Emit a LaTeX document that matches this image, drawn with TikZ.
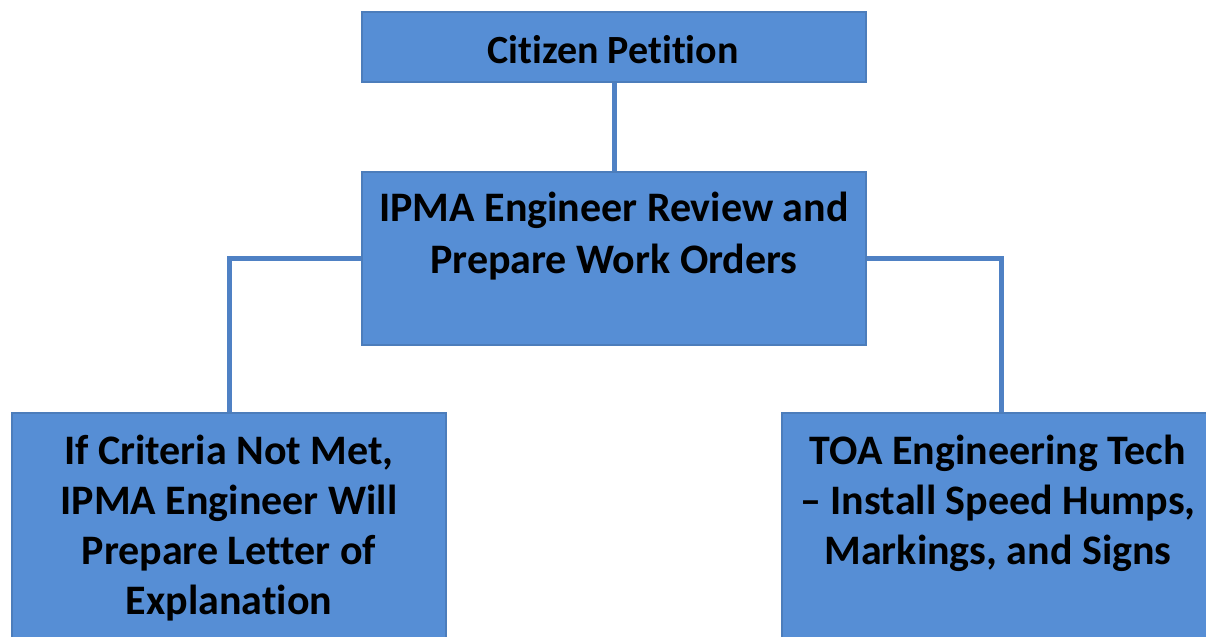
\documentclass[tikz,border=0pt]{standalone}
\usepackage{fontspec}
\setmainfont{Carlito}[Ligatures=NoCommon]
\usetikzlibrary{positioning}

\definecolor{boxblue}{RGB}{86,142,213}
\definecolor{linkblue}{RGB}{79,129,196}

\begin{document}
\begin{tikzpicture}[x=0.5pt, y=-0.5pt,
    box/.style={draw=boxblue!88!black, line width=0.6pt, fill=boxblue, rectangle, inner sep=0pt},
    boxtext/.style={inner sep=0pt, align=center, font=\bfseries\fontsize{21}{25}\selectfont},
    link/.style={draw=linkblue, line width=2.5pt}]
    \useasboundingbox (0,0) rectangle (1206,637);
    \clip (0,0) rectangle (1206,637);

    % boxes
    \node [box, minimum width=252pt, minimum height=35pt] (petition) at (614,47) {};
    \node [box, minimum width=252pt, minimum height=86.5pt] (review) at (614,258.5) {};
    \node [box, minimum width=217pt, minimum height=123.5pt] (criteria) at (229,536.5) {};
    \node [box, minimum width=219pt, minimum height=123.5pt] (install) at (1001,536.5) {};

    % texts
    \node [boxtext, font=\bfseries\fontsize{20}{25}\selectfont] (petitiontext) at (613,50) {Citizen Petition};
    \node [boxtext, anchor=north, font=\bfseries\fontsize{21}{26}\selectfont] (reviewtext) at (614,192) {IPMA Engineer Review and\\Prepare Work Orders};
    \node [boxtext, anchor=north] (criteriatext) at (229,435) {If Criteria Not Met,\\IPMA Engineer Will\\Prepare Letter of\\Explanation};
    \node [boxtext, anchor=north] (installtext) at (998,435) {TOA Engineering Tech\\-- Install Speed Humps,\\Markings, and Signs};

    % connectors
    \draw [link] (petition) -- (review);
    \draw [link] (review.west) -| (criteria.north);
    \draw [link] (review.east) -| (install.north);
\end{tikzpicture}
\end{document}
